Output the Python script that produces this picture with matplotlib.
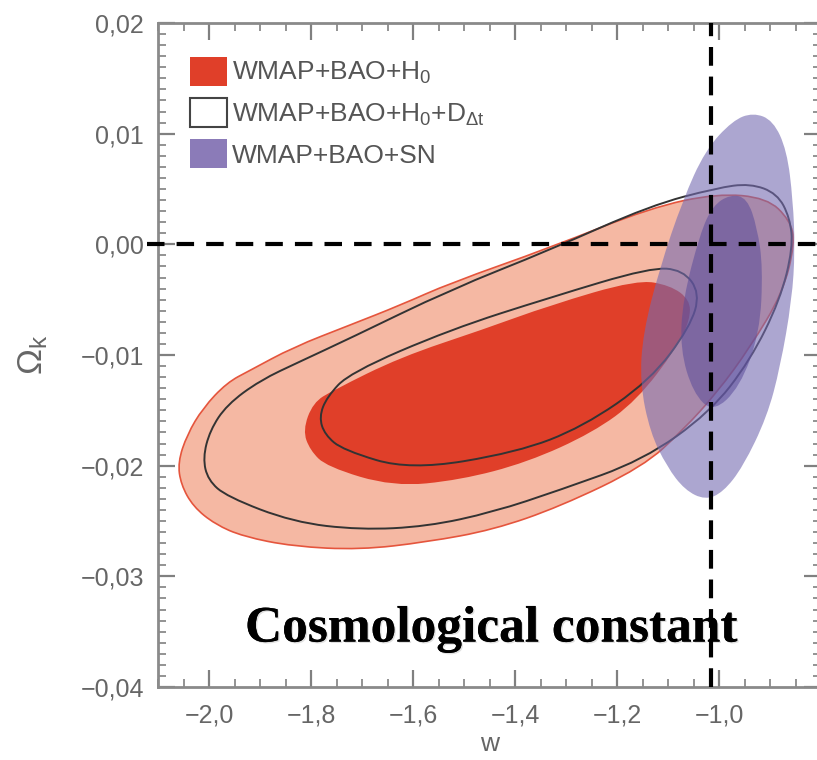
import matplotlib
matplotlib.use("Agg")
import numpy as np
import matplotlib.pyplot as plt
import matplotlib.patheffects as pe
from matplotlib.patches import Patch, PathPatch
from matplotlib.path import Path
from matplotlib.ticker import MultipleLocator, FixedLocator, FuncFormatter

plt.rcParams["font.family"] = ["Liberation Sans", "DejaVu Sans"]
plt.rcParams["mathtext.fontset"] = "custom"
plt.rcParams["mathtext.rm"] = "Liberation Sans"
plt.rcParams["mathtext.it"] = "Liberation Sans:italic"
plt.rcParams["mathtext.default"] = "regular"

# Contour outlines, as (w, Omega_k) pairs
red95 = [(-2.061, -0.0197), (-2.043, -0.0172), (-2.012, -0.0148), (-1.965, -0.0125),
         (-1.920, -0.0114), (-1.835, -0.0093), (-1.724, -0.0073), (-1.625, -0.0055),
         (-1.527, -0.0035), (-1.331, -0.0003), (-1.135, 0.0033), (-1.004, 0.0046),
         (-0.906, 0.0042), (-0.861, 0.0022), (-0.851, 0.0001), (-0.875, -0.0044),
         (-0.939, -0.0093), (-1.004, -0.0134), (-1.071, -0.0168), (-1.149, -0.0201),
         (-1.312, -0.0237), (-1.443, -0.0258), (-1.573, -0.0269), (-1.704, -0.0276),
         (-1.835, -0.0273), (-1.933, -0.0264), (-1.988, -0.0253), (-2.031, -0.0237),
         (-2.055, -0.0217)]
red68 = [(-1.816, -0.0168), (-1.796, -0.0143), (-1.757, -0.0132), (-1.625, -0.0102),
         (-1.463, -0.0077), (-1.331, -0.0055), (-1.161, -0.0032), (-1.096, -0.0037),
         (-1.057, -0.0050), (-1.057, -0.0068), (-1.082, -0.0093), (-1.161, -0.0141),
         (-1.247, -0.0170), (-1.376, -0.0197), (-1.508, -0.0213), (-1.639, -0.0219),
         (-1.769, -0.0201), (-1.802, -0.0186)]
dt95 = [(-2.012, -0.0193), (-1.998, -0.0168), (-1.965, -0.0145), (-1.900, -0.0123),
        (-1.822, -0.0106), (-1.724, -0.0085), (-1.527, -0.0041), (-1.331, -0.0005),
        (-1.135, 0.0035), (-1.004, 0.0051), (-0.939, 0.0055), (-0.886, 0.0046),
        (-0.861, 0.0024), (-0.855, -0.0003), (-0.880, -0.0050), (-0.939, -0.0105),
        (-1.018, -0.0152), (-1.149, -0.0195), (-1.312, -0.0222), (-1.443, -0.0242),
        (-1.573, -0.0255), (-1.704, -0.0258), (-1.835, -0.0251), (-1.965, -0.0228),
        (-2.002, -0.0213)]
dt68 = [(-1.784, -0.0156), (-1.769, -0.0138), (-1.724, -0.0116), (-1.527, -0.0077),
        (-1.331, -0.0048), (-1.135, -0.0021), (-1.071, -0.0023), (-1.037, -0.0044),
        (-1.057, -0.0075), (-1.135, -0.0123), (-1.267, -0.0165), (-1.396, -0.0188),
        (-1.606, -0.0204), (-1.737, -0.0186), (-1.773, -0.0172)]
sn95 = [(-0.933, 0.0119), (-0.894, 0.0112), (-0.867, 0.0085), (-0.855, 0.0040),
        (-0.851, -0.0005), (-0.857, -0.0050), (-0.880, -0.0111), (-0.906, -0.0156),
        (-0.953, -0.0201), (-0.992, -0.0224), (-1.027, -0.0231), (-1.067, -0.0222),
        (-1.102, -0.0201), (-1.135, -0.0170), (-1.155, -0.0125), (-1.149, -0.0080),
        (-1.116, -0.0021), (-1.071, 0.0040), (-1.027, 0.0085), (-0.973, 0.0112)]
sn68 = [(-0.978, 0.0045), (-0.945, 0.0042), (-0.925, 0.0015), (-0.914, -0.0021),
        (-0.920, -0.0080), (-0.959, -0.0129), (-1.012, -0.0152), (-1.051, -0.0134),
        (-1.076, -0.0095), (-1.071, -0.0050), (-1.037, 0.0010), (-1.012, 0.0035)]

legend_labels = [r"WMAP+BAO+H$_0$", r"WMAP+BAO+H$_0$+D$_{\Delta t}$", "WMAP+BAO+SN"]
x_ticks = [-2.0, -1.8, -1.6, -1.4, -1.2, -1.0]
lambda_w = -1.015   # vertical guide, where the picture draws it
flat_ok = 0.0       # horizontal guide
annotation = "Cosmological constant"

RED_LIGHT = "#F5B8A3"
RED_DARK = "#E03F29"
RED_EDGE = "#E5553D"
PURPLE = "#756BB1"
PURPLE_DARK = "#5A4C9A"
GREY = "#666666"


def smooth_path(points):
    """Closed quadratic B-spline using the read points as control points"""
    pts = np.asarray(points)
    mids = (pts + np.roll(pts, -1, axis=0)) / 2
    verts = [mids[-1]]
    codes = [Path.MOVETO]
    for p, m in zip(pts, mids):
        verts += [p, m]
        codes += [Path.CURVE3, Path.CURVE3]
    verts.append(mids[-1])
    codes.append(Path.CLOSEPOLY)
    return Path(verts, codes)


fig = plt.figure(figsize=(8.17, 7.6), dpi=100)
ax = fig.add_axes([158 / 817, 1 - 687 / 760, 663 / 817, 664 / 760])

ax.add_patch(PathPatch(smooth_path(red95), facecolor=RED_LIGHT, edgecolor=RED_EDGE, lw=1.2, zorder=1))
ax.add_patch(PathPatch(smooth_path(red68), facecolor=RED_DARK, edgecolor="none", zorder=2))
for outline in (dt95, dt68):
    ax.add_patch(PathPatch(smooth_path(outline), facecolor="none", edgecolor="#333333", lw=1.4, zorder=3))
ax.add_patch(PathPatch(smooth_path(sn95), facecolor=PURPLE, edgecolor="none", alpha=0.6, zorder=4))
ax.add_patch(PathPatch(smooth_path(sn68), facecolor=PURPLE_DARK, edgecolor="none", alpha=0.55, zorder=5))

# hand-drawn style guides
ax.axhline(flat_ok, xmin=-0.017, xmax=1.0, color="black", lw=3, dashes=(4.2, 2.9), clip_on=False, zorder=6)
ax.axvline(lambda_w, ymin=0, ymax=1, color="black", lw=3, dashes=(4.5, 2.6), clip_on=False, zorder=6)

ax.set_xlim(-2.1, -0.8)
ax.set_ylim(-0.04, 0.02)

ax.xaxis.set_major_locator(FixedLocator(x_ticks))
ax.xaxis.set_minor_locator(MultipleLocator(0.05))
ax.yaxis.set_major_locator(MultipleLocator(0.01))
ax.yaxis.set_minor_locator(MultipleLocator(0.001))


def comma_fmt(digits):
    def fmt(v, _):
        v = round(v, digits)
        if v == 0:
            v = 0.0
        return f"{v:.{digits}f}".replace(".", ",").replace("-", "\u2212")
    return FuncFormatter(fmt)


ax.xaxis.set_major_formatter(comma_fmt(1))
ax.yaxis.set_major_formatter(comma_fmt(2))

ax.tick_params(which="both", direction="in", top=True, right=True, color="#808080", labelcolor=GREY)
ax.tick_params(which="major", length=12, width=1.6, labelsize=18)
ax.tick_params(which="minor", length=6, width=1.2)
ax.tick_params(axis="x", which="major", pad=12)
ax.tick_params(axis="y", which="major", pad=10)
for spine in ax.spines.values():
    spine.set_color("#8a8a8a")
    spine.set_linewidth(2)

ax.set_xlabel("w", fontsize=19, color=GREY, labelpad=3)
ax.set_ylabel(r"$\Omega_k$", fontsize=25, color=GREY, labelpad=22)

handles = [Patch(facecolor=RED_DARK, edgecolor="none"),
           Patch(facecolor="white", edgecolor="#444444", lw=1.5),
           Patch(facecolor="#8B7BB8", edgecolor="none")]
leg = ax.legend(handles, legend_labels, loc="upper left", bbox_to_anchor=(0.048, 0.949),
                frameon=False, fontsize=19, handlelength=1.4, handleheight=1.3,
                handletextpad=0.2, labelspacing=0.45, borderpad=0, borderaxespad=0)
for t in leg.get_texts():
    t.set_color("#555555")

ax.text(-1.447, -0.0359, annotation, fontsize=37, fontweight="bold", family="Liberation Serif",
        ha="center", va="baseline", color="black", zorder=7,
        path_effects=[pe.withSimplePatchShadow(offset=(1, -1), alpha=0.12), pe.Normal()])

fig.savefig("out.png", dpi=100)
